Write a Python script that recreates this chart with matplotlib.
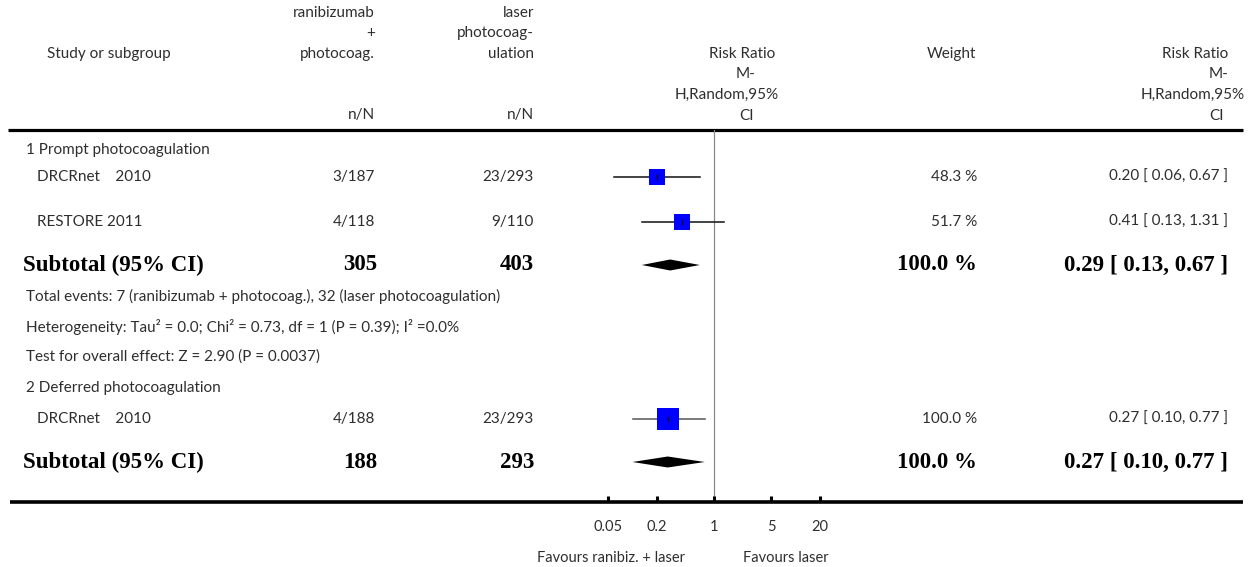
import matplotlib
matplotlib.use("Agg")
import matplotlib.pyplot as plt
import matplotlib.transforms as mtransforms
import numpy as np

# ---- data -------------------------------------------------------------
studies = ["DRCRnet    2010", "RESTORE 2011", "DRCRnet    2010"]
treat_nN = ["3/187", "4/118", "4/188"]
ctrl_nN = ["23/293", "9/110", "23/293"]
rr = [0.20, 0.41, 0.27]
rr_lo = [0.06, 0.13, 0.10]
rr_hi = [0.67, 1.31, 0.77]
weights = [48.3, 51.7, 100.0]

subgroups = ["1 Prompt photocoagulation", "2 Deferred photocoagulation"]
sub_treat_N = [305, 188]
sub_ctrl_N = [403, 293]
sub_rr = [0.29, 0.27]
sub_lo = [0.13, 0.10]
sub_hi = [0.67, 0.77]
sub_weight = [100.0, 100.0]

subgroup1_notes = [
    "Total events: 7 (ranibizumab + photocoag.), 32 (laser photocoagulation)",
    "Heterogeneity: Tau\u00b2 = 0.0; Chi\u00b2 = 0.73, df = 1 (P = 0.39); I\u00b2 =0.0%",
    "Test for overall effect: Z = 2.90 (P = 0.0037)",
]

xticks = [0.05, 0.2, 1, 5, 20]
xtick_labels = ["0.05", "0.2", "1", "5", "20"]
favours_left = "Favours ranibiz. + laser"
favours_right = "Favours laser"

# ---- layout (pixel units) -----------------------------------------------
W, H = 1257, 567
DPI = 100
TEXT_COLOR = "#2e2e2e"
REG = dict(family="Lato", fontweight="normal", fontsize=11, color=TEXT_COLOR)
BOLD = dict(family="Liberation Serif", fontweight="bold", fontsize=16.5, color="black")

X_NAME_HDR, X_SUB, X_STUDY = 47, 25, 37
X_TREAT, X_CTRL = 375, 534
X_WEIGHT, X_RR = 977, 1228
Y_TOP_LINE, Y_BOT_LINE = 130, 502

fig = plt.figure(figsize=(W / DPI, H / DPI), dpi=DPI)
ax = fig.add_axes([0, 0, 1, 1])
ax.set_xlim(0, W)
ax.set_ylim(H, 0)
ax.axis("off")

# forest panel: log axis, x=1 at pixel 714, 81.5 px per decade
fx_left, fx_right = 714 - 2 * 81.5, 714 + 2 * 81.5
fx = fig.add_axes([fx_left / W, (H - Y_BOT_LINE) / H,
                   (fx_right - fx_left) / W, (Y_BOT_LINE - Y_TOP_LINE) / H])
fx.set_xscale("log")
fx.set_xlim(0.01, 100)
fx.set_ylim(Y_BOT_LINE, Y_TOP_LINE)
fx.patch.set_alpha(0)
for s in fx.spines.values():
    s.set_visible(False)
fx.set_yticks([])
fx.set_xticks(xticks)
fx.set_xticklabels(xtick_labels, fontfamily="Lato", fontsize=10.5, color=TEXT_COLOR)
fx.xaxis.set_minor_locator(matplotlib.ticker.NullLocator())
fx.tick_params(axis="x", direction="in", length=4, width=2.2, pad=13, color="black")

# ---- header ----------------------------------------------------------------
def txt(x, y, s, ha="left", **kw):
    style = dict(REG)
    style.update(kw)
    ax.text(x, y, s, ha=ha, va="center", **style)

hdr_rows = [13, 33.5, 54, 74.5, 95, 115.5]
txt(X_NAME_HDR, hdr_rows[2], "Study or subgroup")
for i, s in enumerate(["ranibizumab", "+", "photocoag."]):
    txt(X_TREAT, hdr_rows[i], s, ha="right")
for i, s in enumerate(["laser", "photocoag-", "ulation"]):
    txt(X_CTRL, hdr_rows[i], s, ha="right")
txt(X_TREAT, hdr_rows[5], "n/N", ha="right")
txt(X_CTRL, hdr_rows[5], "n/N", ha="right")
txt(742, hdr_rows[2], "Risk Ratio", ha="center")
txt(746, hdr_rows[3], "M-", ha="center")
txt(727, hdr_rows[4], "H,Random,95%", ha="center")
txt(746, hdr_rows[5], "CI", ha="center")
txt(951, hdr_rows[2], "Weight", ha="center")
txt(X_RR, hdr_rows[2], "Risk Ratio", ha="right")
txt(X_RR, hdr_rows[3], "M-", ha="right")
txt(1245, hdr_rows[4], "H,Random,95%", ha="right")
txt(1217, hdr_rows[5], "CI", ha="center")

ax.plot([8, 1243], [Y_TOP_LINE, Y_TOP_LINE], color="black", lw=2.3, solid_capstyle="butt")
ax.plot([10, 1243], [Y_BOT_LINE, Y_BOT_LINE], color="black", lw=2.6, solid_capstyle="butt")

# line of no effect
fx.plot([1, 1], [Y_TOP_LINE, Y_BOT_LINE], color="#8a8a8a", lw=0.9, zorder=1)

# ---- body ------------------------------------------------------------------
def study_row(i, y, ci_color="#111111"):
    txt(X_STUDY, y, studies[i])
    txt(X_TREAT, y, treat_nN[i], ha="right")
    txt(X_CTRL, y, ctrl_nN[i], ha="right")
    txt(X_WEIGHT, y, f"{weights[i]:.1f} %", ha="right")
    txt(X_RR, y, f"{rr[i]:.2f} [ {rr_lo[i]:.2f}, {rr_hi[i]:.2f} ]", ha="right")
    fx.plot([rr_lo[i], rr_hi[i]], [y, y], color=ci_color, lw=1.1, zorder=2)
    side_px = 22 * np.sqrt(weights[i] / 100.0)
    fx.plot(rr[i], y, marker="s", ms=side_px * 72 / DPI, color="#0000ff",
            mec="#0000ff", mew=0, zorder=3)
    fx.plot(rr[i], y, marker="|", ms=4, color="#111111", mew=0.9, zorder=4)

def subtotal_row(k, y):
    ax.text(X_SUB - 2, y, "Subtotal (95% CI)", ha="left", va="center", **BOLD)
    ax.text(X_TREAT + 2, y, f"{sub_treat_N[k]}", ha="right", va="center", **BOLD)
    ax.text(X_CTRL, y, f"{sub_ctrl_N[k]}", ha="right", va="center", **BOLD)
    ax.text(X_WEIGHT, y, f"{sub_weight[k]:.1f} %", ha="right", va="center", **BOLD)
    ax.text(X_RR, y, f"{sub_rr[k]:.2f} [ {sub_lo[k]:.2f}, {sub_hi[k]:.2f} ]",
            ha="right", va="center", **BOLD)
    half = 5.5
    fx.fill([sub_lo[k], sub_rr[k], sub_hi[k], sub_rr[k]],
            [y, y - half, y, y + half], color="black", lw=0, zorder=3)

txt(X_SUB + 1, 150, subgroups[0])
study_row(0, 177)
study_row(1, 222)
subtotal_row(0, 265)
for y, s in zip([296, 327, 357], subgroup1_notes):
    txt(X_SUB + 1, y, s)
txt(X_SUB + 1, 388, subgroups[1])
study_row(2, 419, ci_color="#555555")
subtotal_row(1, 462)

# ---- favours labels --------------------------------------------------------
FAV = dict(REG)
FAV["fontsize"] = 10.5
fav_tr = mtransforms.blended_transform_factory(fx.transData, ax.transData)
ax.text(0.44, 558, favours_left, transform=fav_tr, ha="right", va="center", **FAV)
ax.text(2.27, 558, favours_right, transform=fav_tr, ha="left", va="center", **FAV)

fig.savefig("out.png", dpi=DPI, facecolor="white")
